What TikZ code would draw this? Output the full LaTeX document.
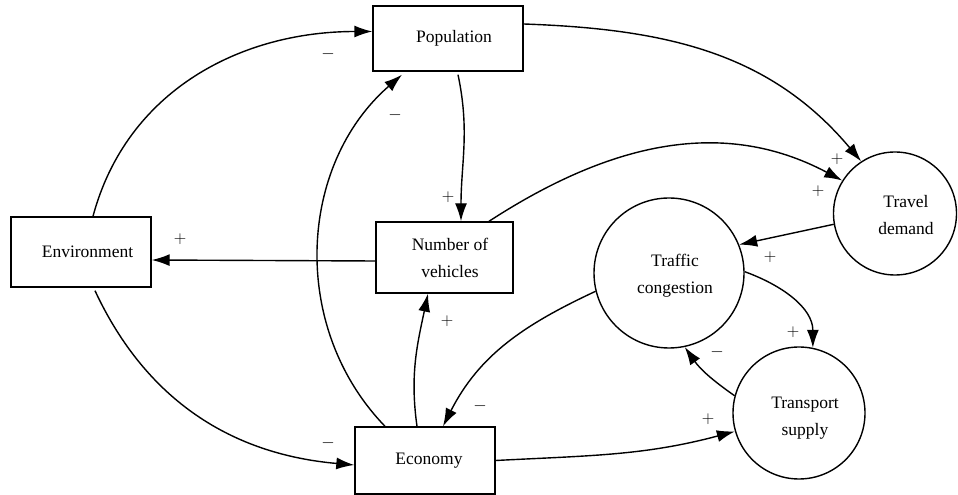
\documentclass[tikz,border=0pt]{standalone}
\usepackage{fontspec}
\setmainfont{Liberation Serif}
\usetikzlibrary{arrows.meta}

\begin{document}
\begin{tikzpicture}[x=1pt,y=1pt,
  box/.style={draw, line width=1.4pt, rectangle, inner sep=0pt},
  blob/.style={draw, line width=1.4pt, circle, inner sep=0pt},
  txt/.style={font=\fontsize{17.5}{27}\selectfont, align=center, inner sep=0pt},
  conn/.style={line width=1.4pt, -{Latex[length=18pt,width=12pt]}},
  sign/.style={font=\fontsize{18}{18}\selectfont, inner sep=0pt}
]
\useasboundingbox (0,0) rectangle (958,495);

% stocks (boxes)
\node[box, minimum width=150pt, minimum height=65pt,
      label={[txt,xshift=6pt]center:Population}] (pop) at (448,456.5) {};
\node[box, minimum width=140pt, minimum height=70pt,
      label={[txt,xshift=6.5pt]center:Environment}] (env) at (81,243) {};
\node[box, minimum width=137pt, minimum height=71pt,
      label={[txt,xshift=5.5pt]center:Number of\\vehicles}] (nov) at (444.5,237.5) {};
\node[box, minimum width=140pt, minimum height=67pt,
      label={[txt,xshift=4pt]center:Economy}] (eco) at (425,34.5) {};

% transport variables (circles)
\node[blob, minimum size=123pt,
      label={[txt,xshift=11pt,yshift=-1.5pt]center:Travel\\demand}] (td) at (895,281.5) {};
\node[blob, minimum size=150pt,
      label={[txt,xshift=6pt,yshift=-3pt]center:Traffic\\congestion}] (tc) at (669,222) {};
\node[blob, minimum size=132pt,
      label={[txt,xshift=6pt,yshift=-5pt]center:Transport\\supply}] (ts) at (799,82) {};

% causal links
\draw[conn] ([xshift=12pt]env.north) to[out=75,in=180] ([yshift=7pt]pop.west);
\draw[conn] ([xshift=-40pt]eco.north) to[out=134,in=221] ([xshift=-46pt,yshift=-3pt]pop.south);
\draw[conn] ([xshift=10pt,yshift=-3pt]pop.south) to[out=-78,in=90] ([xshift=16.5pt]nov.north);
\draw[conn] ([yshift=14.5pt]pop.east) to[out=-2,in=130] (td.123);
\draw[conn] ([xshift=44.5pt]nov.north) to[out=33,in=152] (td.148);
\draw[conn] ([yshift=-3.5pt]nov.west) -- ([yshift=-8pt]env.east);
\draw[conn] ([xshift=-8pt]eco.north) to[out=98,in=258] ([xshift=-16.5pt]nov.south);
\draw[conn] ([xshift=14pt,yshift=-3pt]env.south) to[out=-65,in=175] ([yshift=-4.5pt]eco.west);
\draw[conn] (td.190) -- (tc.22);
\draw[conn] (tc.1) to[out=-20,in=90] (ts.78);
\draw[conn] (ts.165) to[out=145,in=-55] (tc.282);
\draw[conn] (tc.194) to[out=205,in=63] ([xshift=18pt]eco.north);
\draw[conn] (eco.east) to[out=3,in=195] (ts.196);

% polarities
\node[sign] (s1)  at (328,441) {$-$};
\node[sign] (s2)  at (395,380) {$-$};
\node[sign] (s3)  at (448,298) {$+$};
\node[sign] (s4)  at (837,336) {$+$};
\node[sign] (s5)  at (818,304) {$+$};
\node[sign] (s6)  at (180,256) {$+$};
\node[sign] (s7)  at (447,174) {$+$};
\node[sign] (s8)  at (328,52)  {$-$};
\node[sign] (s9)  at (770,238) {$+$};
\node[sign] (s10) at (793,163) {$+$};
\node[sign] (s11) at (717,143) {$-$};
\node[sign] (s12) at (480,89)  {$-$};
\node[sign] (s13) at (708,76)  {$+$};
\end{tikzpicture}
\end{document}
